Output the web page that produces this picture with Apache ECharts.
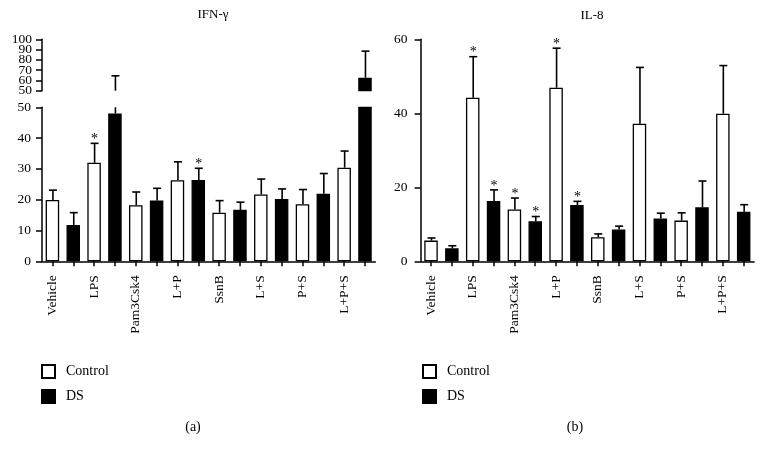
<!DOCTYPE html>
<html><head><meta charset="utf-8">
<script src="https://cdn.jsdelivr.net/npm/echarts@6/dist/echarts.min.js"></script>
<style>html,body{margin:0;padding:0;background:#fff}#c{width:763px;height:458px}</style>
</head><body><div id="c"></div>
<script>
// ---- data ----
const categories = ['Vehicle','LPS','Pam3Csk4','L+P','SsnB','L+S','P+S','L+P+S'];
// IFN-γ
const ifnControl    = [19.9, 32.0, 18.2, 26.3, 15.8, 21.7, 18.5, 30.4];
const ifnControlErr = [3.2, 6.3, 4.3, 6.0, 3.9, 5.0, 4.8, 5.4];
const ifnDS         = [11.8, 48.0, 19.7, 26.4, 16.7, 20.2, 21.9, 62.6];
const ifnDSErr      = [4.0, 16.5, 4.0, 3.8, 2.5, 3.3, 6.6, 25.9];
const ifnStarControl = [0,1,0,0,0,0,0,0];
const ifnStarDS      = [0,0,0,1,0,0,0,0];
// IL-8
const il8Control    = [5.6, 44.2, 14.0, 46.9, 6.5, 37.2, 11.0, 39.9];
const il8ControlErr = [0.7, 11.1, 3.1, 10.7, 0.9, 15.2, 2.1, 13.0];
const il8DS         = [3.5, 16.3, 10.8, 15.2, 8.6, 11.6, 14.6, 13.4];
const il8DSErr      = [0.7, 3.0, 1.3, 1.0, 0.9, 1.4, 7.1, 1.9];
const il8StarControl = [0,1,1,1,0,0,0,0];
const il8StarDS      = [0,1,1,1,0,0,0,0];
// axis ticks
const ifnLowTicks = [0, 50, 10];
const ifnHighTicks = [50, 100, 10];
const ifnHighTickLabels = [50, 60, 70, 80, 90, 100];
const il8Ticks = [0, 60, 20];

// ---- build ----
const FONT = 'Liberation Serif';
const slots = [];
categories.forEach(c => { slots.push(c); slots.push(c + ' DS'); });
function slotData(vals, offset, filter) {
  const arr = new Array(16).fill('-');
  vals.forEach((v, i) => { arr[2*i+offset] = (filter && !filter(v)) ? '-' : v; });
  return arr;
}
function errData(ctrl, ctrlErr, ctrlStar, ds, dsErr, dsStar) {
  const out = [];
  ctrl.forEach((v, i) => {
    out.push([2*i, v, ctrlErr[i], ctrlStar[i]]);
    out.push([2*i+1, ds[i], dsErr[i], dsStar[i]]);
  });
  return out;
}
function errRender(ymin, ymax) {
  return function (params, api) {
    const x = api.value(0), m = api.value(1), e = api.value(2), s = api.value(3);
    const top = m + e;
    const lo = Math.max(m, ymin), hi = Math.min(top, ymax);
    if (hi <= lo) return null;
    const p0 = api.coord([x, lo]), p1 = api.coord([x, hi]);
    const cx = p0[0] + 0.5;
    const children = [{type: 'line', shape: {x1: cx, y1: p0[1], x2: cx, y2: p1[1]},
      style: {stroke: '#000', lineWidth: 1.6}}];
    if (top <= ymax) {
      children.push({type: 'line', shape: {x1: cx - 4, y1: p1[1], x2: cx + 4, y2: p1[1]},
        style: {stroke: '#000', lineWidth: 1.6}});
      if (s) {
        children.push({type: 'text', x: cx, y: p1[1] + 3,
          style: {text: '*', fill: '#000', font: '14px "' + FONT + '"',
            textAlign: 'center', textVerticalAlign: 'bottom'}});
      }
    }
    return {type: 'group', children: children};
  };
}
const axisLineStyle = {color: '#000', width: 1.5};
function xAxisCfg(gridIndex, show) {
  return {
    type: 'category', gridIndex: gridIndex, data: slots, show: show,
    axisLine: {lineStyle: axisLineStyle},
    axisTick: {show: true, interval: 0, alignWithLabel: true, length: 5, lineStyle: axisLineStyle},
    axisLabel: {interval: 1, rotate: 90, margin: 14, color: '#000', fontFamily: FONT, fontSize: 13.5},
  };
}
function yAxisCfg(gridIndex, t, margin, showLabel) {
  return {
    type: 'value', gridIndex: gridIndex, min: t[0], max: t[1], interval: t[2],
    axisLine: {show: true, lineStyle: axisLineStyle},
    axisTick: {show: true, length: 6, lineStyle: axisLineStyle},
    splitLine: {show: false},
    axisLabel: {show: showLabel, color: '#000', fontFamily: FONT, fontSize: 13.5, margin: margin,
      hideOverlap: false, showMinLabel: true, showMaxLabel: true}
  };
}
const barBase = {type: 'bar', barWidth: 13.5, barGap: '-100%'};
const ctrlStyle = {color: '#fff', borderColor: '#000', borderWidth: 1.3};
const dsStyle = {color: '#000', borderColor: '#000', borderWidth: 1.3};

const option = {
  animation: false,
  backgroundColor: '#fff',
  title: [
    {text: 'IFN-γ', left: 208, top: 3, textAlign: 'center', textStyle: {fontFamily: FONT, fontSize: 13, fontWeight: 'normal', color: '#000'}},
    {text: 'IL-8', left: 587, top: 4, textAlign: 'center', textStyle: {fontFamily: FONT, fontSize: 13, fontWeight: 'normal', color: '#000'}},
    {text: '(a)', left: 188, top: 415, textAlign: 'center', textStyle: {fontFamily: FONT, fontSize: 14, fontWeight: 'normal', color: '#000'}},
    {text: '(b)', left: 570, top: 415, textAlign: 'center', textStyle: {fontFamily: FONT, fontSize: 14, fontWeight: 'normal', color: '#000'}}
  ],
  legend: [
    {orient: 'vertical', left: 36, top: 359, itemWidth: 13, itemHeight: 13, itemGap: 10, icon: 'rect',
      data: ['Control', 'DS'], textStyle: {fontFamily: FONT, fontSize: 14, color: '#000', padding: [0, 0, 0, 6]}},
    {orient: 'vertical', left: 417, top: 359, itemWidth: 13, itemHeight: 13, itemGap: 10, icon: 'rect',
      data: ['Control', 'DS'], textStyle: {fontFamily: FONT, fontSize: 14, color: '#000', padding: [0, 0, 0, 6]}}
  ],
  grid: [
    {left: 42, width: 333.4, top: 107.3, height: 154},
    {left: 42, width: 333.4, top: 39.3, height: 51.4},
    {left: 420.6, width: 333.5, top: 39.3, height: 222}
  ],
  xAxis: [xAxisCfg(0, true), xAxisCfg(1, false), xAxisCfg(2, true)],
  yAxis: [yAxisCfg(0, ifnLowTicks, 11, true), yAxisCfg(1, ifnHighTicks, 10, false), yAxisCfg(2, il8Ticks, 13, true)],
  series: [
    Object.assign({name: 'Control', xAxisIndex: 0, yAxisIndex: 0, data: slotData(ifnControl, 0), itemStyle: ctrlStyle}, barBase),
    Object.assign({name: 'DS', xAxisIndex: 0, yAxisIndex: 0, data: slotData(ifnDS, 1), itemStyle: dsStyle}, barBase),
    Object.assign({name: 'Control', xAxisIndex: 1, yAxisIndex: 1, data: slotData(ifnControl, 0, v => v > 50), itemStyle: ctrlStyle}, barBase),
    Object.assign({name: 'DS', xAxisIndex: 1, yAxisIndex: 1, data: slotData(ifnDS, 1, v => v > 50), itemStyle: dsStyle}, barBase),
    Object.assign({name: 'Control', xAxisIndex: 2, yAxisIndex: 2, data: slotData(il8Control, 0), itemStyle: ctrlStyle}, barBase),
    Object.assign({name: 'DS', xAxisIndex: 2, yAxisIndex: 2, data: slotData(il8DS, 1), itemStyle: dsStyle}, barBase),
    {type: 'custom', xAxisIndex: 0, yAxisIndex: 0, z: 5, renderItem: errRender(0, 50), encode: {x: 0, y: 1},
      data: errData(ifnControl, ifnControlErr, ifnStarControl, ifnDS, ifnDSErr, ifnStarDS)},
    {type: 'custom', xAxisIndex: 1, yAxisIndex: 1, z: 5, renderItem: errRender(50, 100), encode: {x: 0, y: 1},
      data: errData(ifnControl, ifnControlErr, ifnStarControl, ifnDS, ifnDSErr, ifnStarDS)},
    {type: 'custom', xAxisIndex: 2, yAxisIndex: 2, z: 5, renderItem: errRender(0, 60), encode: {x: 0, y: 1},
      data: errData(il8Control, il8ControlErr, il8StarControl, il8DS, il8DSErr, il8StarDS)},
    // tick labels of the compressed upper axis segment (placed through the axis scale)
    {type: 'custom', xAxisIndex: 1, yAxisIndex: 1, z: 5, clip: false, encode: {x: 0, y: 1},
      data: ifnHighTickLabels.map(v => [0, v]),
      renderItem: function (params, api) {
        const v = api.value(1);
        const p = api.coord([0, v]);
        return {type: 'text', x: params.coordSys.x - 10, y: p[1],
          style: {text: String(v), fill: '#000', font: '13.5px "' + FONT + '"',
            textAlign: 'right', textVerticalAlign: 'middle'}};
      }}
  ]
};
const chart = echarts.init(document.getElementById('c'), null, {renderer: 'canvas'});
chart.setOption(option);
</script>
</body></html>
